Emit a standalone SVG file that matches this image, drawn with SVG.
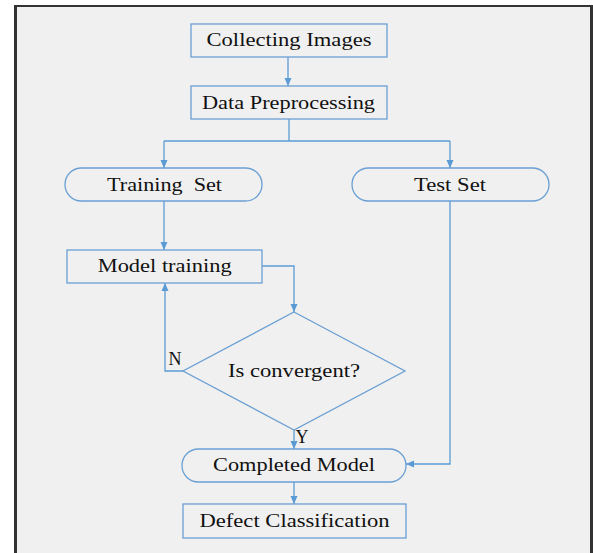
<svg xmlns="http://www.w3.org/2000/svg" width="593" height="553" viewBox="0 0 593 553">
  <style>
    .box { fill: none; stroke: #6a9fd3; stroke-width: 1.3; }
    .link { fill: none; stroke: #5b9bd5; stroke-width: 1.3; }
    .lbl { font-family: "Liberation Serif", "Times New Roman", serif; font-size: 19px; fill: #111; text-anchor: middle; }
    .tag { font-family: "Liberation Serif", "Times New Roman", serif; font-size: 18px; fill: #111; text-anchor: middle; }
  </style>
  <defs>
    <marker id="arrow" viewBox="0 0 8 8" refX="8" refY="4" markerWidth="8" markerHeight="8" markerUnits="userSpaceOnUse" orient="auto">
      <path d="M0,0.5 L8,4 L0,7.5 z" fill="#5b9bd5"/>
    </marker>
  </defs>

  <!-- page and frame -->
  <rect x="0" y="0" width="593" height="553" fill="#ffffff"/>
  <rect x="14" y="5" width="579" height="548" fill="#333333"/>
  <rect x="17" y="7" width="573" height="546" fill="#f0f0f0"/>

  <!-- connectors -->
  <g id="connectors">
    <path class="link" d="M288,57 L288,86" marker-end="url(#arrow)"/>
    <path class="link" d="M289,119 L289,141 M164,141 L450,141"/>
    <path class="link" d="M164,141 L164,168" marker-end="url(#arrow)"/>
    <path class="link" d="M450,141 L450,168" marker-end="url(#arrow)"/>
    <path class="link" d="M164,201 L164,250" marker-end="url(#arrow)"/>
    <path class="link" d="M262,266 L294,266 L294,312" marker-end="url(#arrow)"/>
    <path class="link" d="M183,371 L165,371 L165,283" marker-end="url(#arrow)"/>
    <path class="link" d="M294,430 L294,449" marker-end="url(#arrow)"/>
    <path class="link" d="M450,201 L450,464 L406,464" marker-end="url(#arrow)"/>
    <path class="link" d="M294,482 L294,504" marker-end="url(#arrow)"/>
    <text class="tag" x="175" y="365">N</text>
    <text class="tag" x="302" y="443">Y</text>
  </g>

  <g id="collecting-images">
    <rect class="box" x="191" y="24" width="196" height="33"/>
    <text class="lbl" x="289" y="46" textLength="165" lengthAdjust="spacingAndGlyphs">Collecting Images</text>
  </g>

  <g id="data-preprocessing">
    <rect class="box" x="191" y="86" width="196" height="33"/>
    <text class="lbl" x="288.5" y="109" textLength="173" lengthAdjust="spacingAndGlyphs">Data Preprocessing</text>
  </g>

  <g id="training-set">
    <rect class="box" x="65" y="168" width="197" height="33" rx="16.5" ry="16.5"/>
    <text class="lbl" x="164.5" y="191" textLength="115" lengthAdjust="spacingAndGlyphs" xml:space="preserve">Training  Set</text>
  </g>

  <g id="test-set">
    <rect class="box" x="352" y="168" width="197" height="33" rx="16.5" ry="16.5"/>
    <text class="lbl" x="450" y="191" textLength="72" lengthAdjust="spacingAndGlyphs">Test Set</text>
  </g>

  <g id="model-training">
    <rect class="box" x="67" y="250" width="195" height="33"/>
    <text class="lbl" x="164.7" y="272" textLength="134" lengthAdjust="spacingAndGlyphs">Model training</text>
  </g>

  <g id="is-convergent">
    <polygon class="box" points="294,312 405,371 294,430 183,371"/>
    <text class="lbl" x="294" y="377" textLength="132" lengthAdjust="spacingAndGlyphs">Is convergent?</text>
  </g>

  <g id="completed-model">
    <rect class="box" x="182" y="449" width="224" height="33" rx="16.5" ry="16.5"/>
    <text class="lbl" x="294" y="471" textLength="162" lengthAdjust="spacingAndGlyphs">Completed Model</text>
  </g>

  <g id="defect-classification">
    <rect class="box" x="183" y="504" width="223" height="34"/>
    <text class="lbl" x="294.5" y="527" textLength="190" lengthAdjust="spacingAndGlyphs">Defect Classification</text>
  </g>
</svg>
